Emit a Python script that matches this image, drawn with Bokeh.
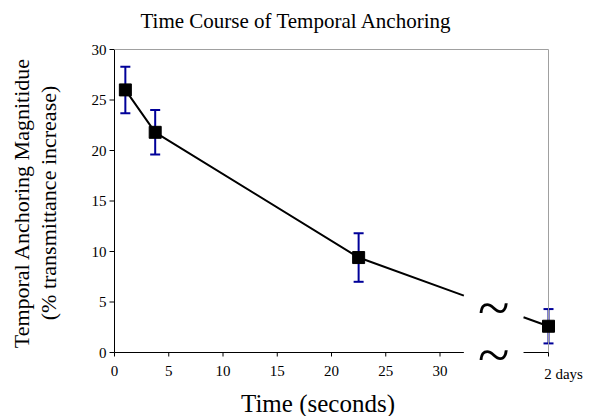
import numpy as np
from bokeh.plotting import figure
from bokeh.models import ColumnDataSource, Whisker, TeeHead, FixedTicker, Label
from bokeh.core.properties import value
from bokeh.embed import file_html
from bokeh.resources import INLINE

# ---- data ----
times = [1.0, 3.75, 22.5, 40.0]          # 40 stands for the "2 days" position
magnitude = [26.0, 21.8, 9.4, 2.6]
error = [2.3, 2.2, 2.4, 1.7]
x_ticks = [0, 5, 10, 15, 20, 25, 30]
days_tick = 40
days_label = "2 days"
y_ticks = [0, 5, 10, 15, 20, 25, 30]

title_text = "Time Course of Temporal Anchoring"
x_title = "Time (seconds)"
y_title_lines = ["Temporal Anchoring Magnitidue", "(% transmittance increase)"]

# ---- layout constants (pixels) ----
W, H = 597, 416
FRAME_LEFT = 100
PX_X0, PX_PER_X = 114, 10.85      # pixel of x = 0, pixels per x unit
PX_Y0, PX_PER_Y = 352, 10.1       # pixel of y = 0, pixels per y unit
gap_start, gap_end = 32.2, 37.7   # axis break
NBSP = "\u00a0"


def px_x(px):
    return (px - PX_X0) / PX_PER_X


def px_y(py):
    return (PX_Y0 - py) / PX_PER_Y


FONT = "Liberation Serif"
BLUE = "#000099"

p = figure(width=W, height=H,
           x_range=(px_x(FRAME_LEFT), px_x(W)), y_range=(px_y(H), px_y(0)),
           output_backend="svg", toolbar_location=None, title=None,
           min_border_left=FRAME_LEFT, min_border_right=0,
           min_border_top=0, min_border_bottom=0)
p.outline_line_color = None
p.xgrid.visible = False
p.ygrid.visible = False
p.background_fill_color = "white"
p.border_fill_color = "white"
p.xaxis.visible = False

# y axis: labels + title from Bokeh's axis, line and ticks drawn at x = 0
yax = p.yaxis[0]
yax.ticker = FixedTicker(ticks=y_ticks)
yax.axis_line_color = None
yax.major_tick_line_color = None
yax.minor_tick_line_color = None
yax.major_tick_in = 0
yax.major_tick_out = 0
yax.major_label_text_font = FONT
yax.major_label_text_font_size = "15px"
yax.major_label_text_color = "black"
yax.major_label_standoff = -(PX_X0 - FRAME_LEFT) + 8
# two leading no-break spaces nudge the centred title up onto the plot's middle
yax.axis_label = "\n".join(NBSP * 2 + line for line in y_title_lines)
yax.axis_label_text_font = FONT
yax.axis_label_text_font_size = "22px"
yax.axis_label_text_font_style = "normal"
yax.axis_label_text_color = "black"
yax.axis_label_text_line_height = 1.05
yax.axis_label_standoff = 28

p.segment(x0=[0], y0=[y_ticks[0]], x1=[0], y1=[y_ticks[-1]],
          line_color="black", line_width=1)
p.ray(x=[0] * len(y_ticks), y=y_ticks, length=5, length_units="screen",
      angle=np.pi, line_color="black", line_width=1)

# frame lines: gray top/right, black broken x axis
p.segment(x0=[0, days_tick], y0=[y_ticks[-1], 0], x1=[days_tick, days_tick],
          y1=[y_ticks[-1], y_ticks[-1]], line_color="#a0a0a0", line_width=1)
p.segment(x0=[0, gap_end], y0=[0, 0], x1=[gap_start, days_tick], y1=[0, 0],
          line_color="black", line_width=1)

# x ticks and tick labels
all_ticks = x_ticks + [days_tick]
p.ray(x=all_ticks, y=[0] * len(all_ticks), length=4, length_units="screen",
      angle=-np.pi / 2, line_color="black", line_width=1)
p.text(x=x_ticks, y=[0] * len(x_ticks), text=[str(v) for v in x_ticks],
       text_font=value(FONT), text_font_size="15px", text_color="black",
       text_align="center", text_baseline="top", y_offset=13)
p.text(x=[days_tick], y=[0], text=[days_label],
       text_font=value(FONT), text_font_size="15px", text_color="black",
       text_align="center", text_baseline="top", y_offset=13, x_offset=15)

# data line with break
t = np.array(times)
m = np.array(magnitude)
before_x = list(t[t < gap_start]) + [gap_start]
before_y = list(m[t < gap_start]) + [float(np.interp(gap_start, t, m))]
after_x = [gap_end] + list(t[t > gap_end])
after_y = [float(np.interp(gap_end, t, m))] + list(m[t > gap_end])
p.line(before_x, before_y, line_color="black", line_width=2)
p.line(after_x, after_y, line_color="black", line_width=2)

src = ColumnDataSource(dict(
    x=times, y=magnitude,
    upper=[v + e for v, e in zip(magnitude, error)],
    lower=[v - e for v, e in zip(magnitude, error)],
))
w = Whisker(source=src, base="x", upper="upper", lower="lower",
            line_color=BLUE, line_width=2, level="underlay",
            upper_head=TeeHead(size=10, line_color=BLUE, line_width=2),
            lower_head=TeeHead(size=10, line_color=BLUE, line_width=2))
p.add_layout(w)
p.scatter("x", "y", source=src, marker="square", size=12,
          fill_color="black", line_color="black")

# break marks
mid = (gap_start + gap_end) / 2
for yy in (4.5, -0.2):
    p.add_layout(Label(x=mid, y=yy, text="~", text_align="center",
                       text_baseline="middle", text_font=FONT,
                       text_font_size="58px", text_color="black"))

# chart title and x title
p.add_layout(Label(x=px_x(140), y=px_y(20), text=title_text,
                   text_align="left", text_baseline="alphabetic",
                   text_font=FONT, text_font_size="21px", text_color="black"))
p.add_layout(Label(x=px_x(317.5), y=px_y(403), text=x_title,
                   text_align="center", text_baseline="alphabetic",
                   text_font=FONT, text_font_size="25px", text_color="black"))

open("out.html", "w").write(file_html(p, INLINE))
